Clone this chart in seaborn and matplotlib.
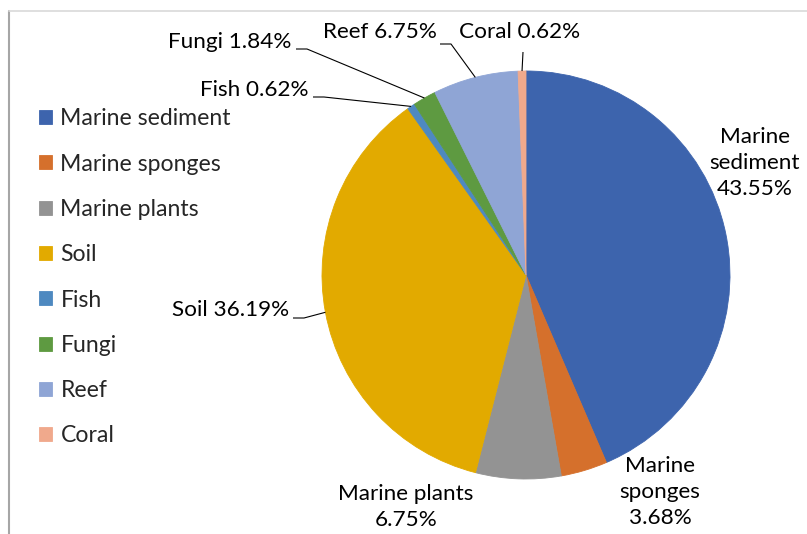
import numpy as np
import matplotlib
matplotlib.use("Agg")
import matplotlib.pyplot as plt
import seaborn as sns

sns.set_style("white")
plt.rcParams['font.family'] = ['Lato', 'DejaVu Sans']

categories = ["Marine sediment", "Marine sponges", "Marine plants", "Soil",
              "Fish", "Fungi", "Reef", "Coral"]
shares = [43.55, 3.68, 6.75, 36.19, 0.62, 1.84, 6.75, 0.62]
colors = ["#3D64AD", "#D5702C", "#939393", "#E2AA00",
          "#4E89C0", "#5E9A41", "#8FA5D5", "#F0A98C"]
# how the name is broken over lines in each data label
label_names = ["Marine\nsediment", "Marine\nsponges", "Marine plants", "Soil",
               "Fish", "Fungi", "Reef", "Coral"]
label_seps = ["\n", "\n", "\n", " ", " ", " ", " ", " "]

W, H = 807, 534
FS = 16.2
LEG_FS = 16.6

def py(y): return H - y  # pixel row -> data y

fig = plt.figure(figsize=(W / 100, H / 100), dpi=100)
ax = fig.add_axes([0, 0, 1, 1])

cx, cy, r = 526, py(275), 204
wedges, _ = ax.pie(shares, colors=colors, startangle=90, counterclock=False,
                   center=(cx, cy), radius=r)
for w in wedges:
    # no seams between slices
    w.set_edgecolor(w.get_facecolor())
    w.set_linewidth(0.6)
ax.set_xlim(0, W)
ax.set_ylim(0, H)
ax.axis("off")

# label placement: (x, y in pixels, horizontal alignment, leader start or None)
layout = [
    (755, 163, "center", None),
    (660, 492, "center", None),
    (406, 507, "center", None),
    (289, 310, "right", (293, 318)),
    (308, 90, "right", (313, 97)),
    (291, 42, "right", (296, 49)),
    (437, 32, "right", (440, 44)),
    (520, 32, "center", (523, 52)),
]

for w, name, sep, share, (x, y, ha, lead) in zip(wedges, label_names, label_seps, shares, layout):
    ax.text(x, py(y), f"{name}{sep}{share:.2f}%", ha=ha, va="center",
            fontsize=FS, color="#000000", linespacing=1.36)
    if lead is not None:
        mid = np.deg2rad((w.theta1 + w.theta2) / 2)
        ex, ey = cx + r * np.cos(mid), cy + r * np.sin(mid)
        lx, ly = lead
        if ha == "center":
            xs, ys = [lx, ex], [py(ly), ey]
        else:
            xs, ys = [lx, lx + 11, ex], [py(ly), py(ly), ey]
        ax.plot(xs, ys, color="#000000", lw=0.8, solid_capstyle="butt")

leg = ax.legend(wedges, categories, loc="upper left",
                bbox_to_anchor=(30 / W, 1 - 99 / H), frameon=False,
                fontsize=LEG_FS, handlelength=0.57, handleheight=0.57,
                handletextpad=0.35, labelspacing=1.055, borderaxespad=0)

# chart frame remnants
ax.plot([9, 9], [py(11), 0], color="#a6a6a6", lw=1.5)
ax.plot([9, W], [py(11), py(11)], color="#d9d9d9", lw=1.2)

fig.savefig("out.png", dpi=100)
